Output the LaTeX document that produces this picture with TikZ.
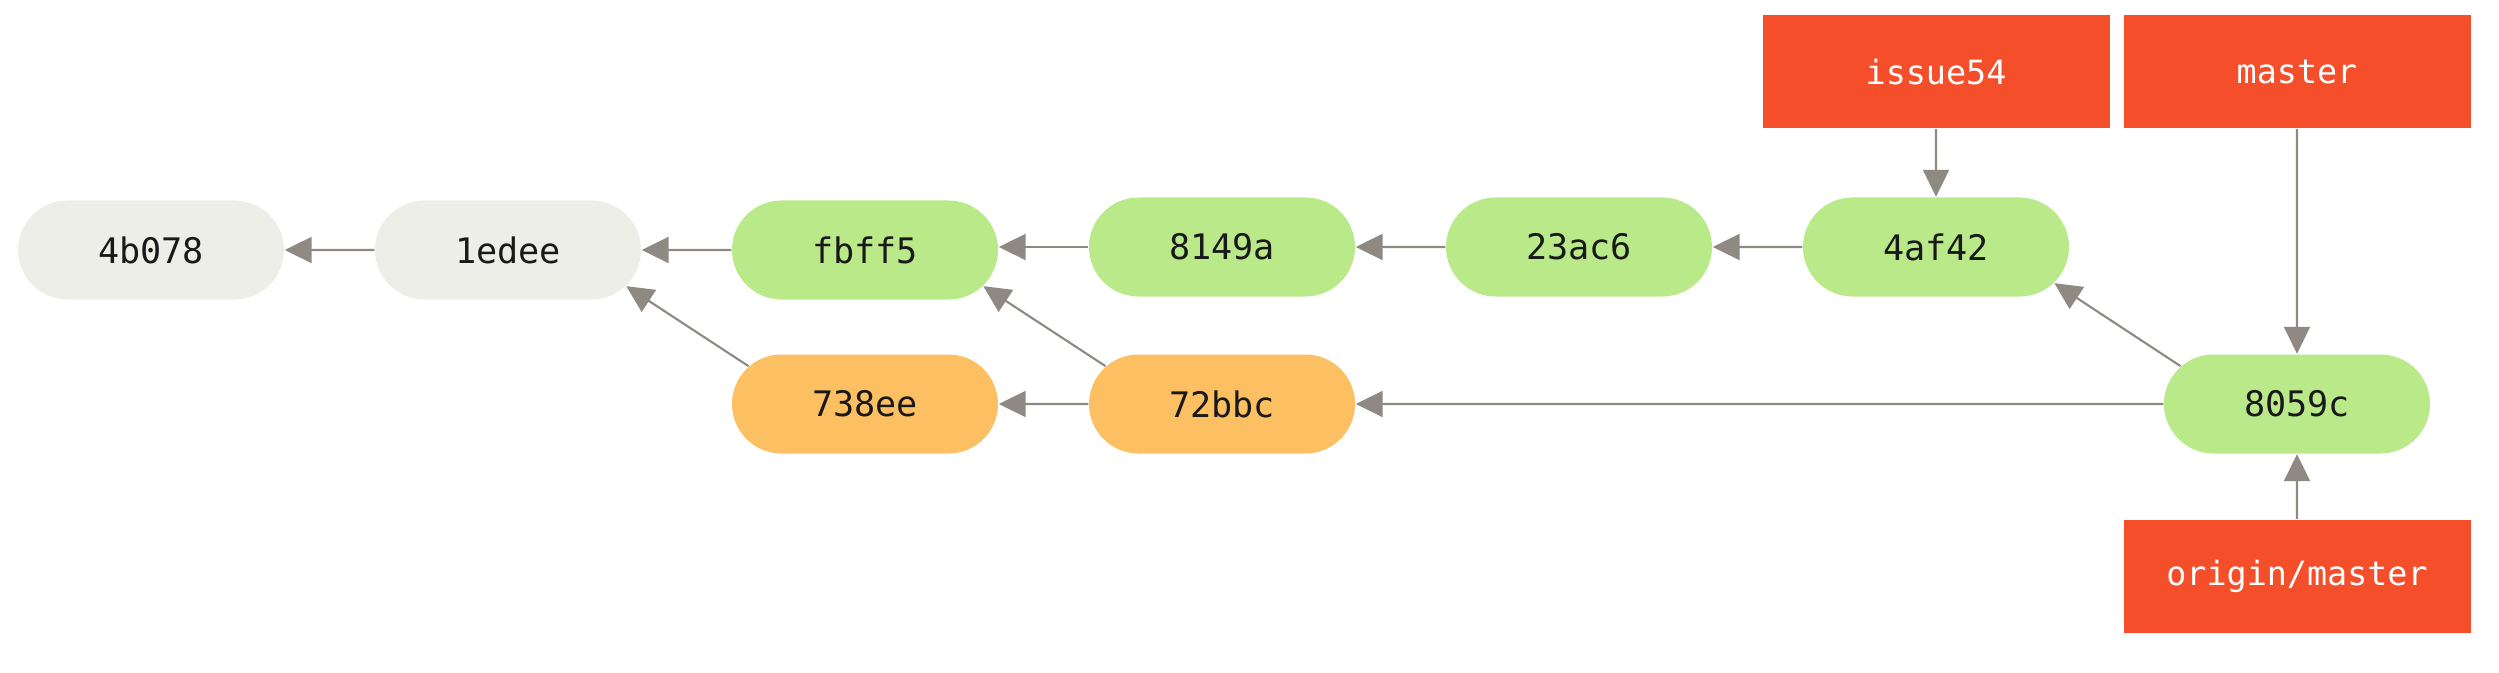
\documentclass[tikz,border=0pt]{standalone}
\usepackage{fontspec}
\setmonofont{DejaVu Sans Mono}
\usepackage{tikz}
\usetikzlibrary{positioning, arrows.meta, shapes.misc}
\definecolor{oldgray}{HTML}{EEEEE8}
\definecolor{commitgreen}{HTML}{BAE98A}
\definecolor{commitorange}{HTML}{FCC062}
\definecolor{refred}{HTML}{F44F2A}
\definecolor{linkgray}{HTML}{8E8982}
\tikzstyle{arrow} = [line width=0.6pt, draw=linkgray, -{Triangle[length=2.7mm, width=2.6mm]}]
\tikzstyle{commit} = [rounded rectangle, minimum width=2.66cm, minimum height=0.99cm, inner sep=0pt, text=black!90, font=\ttfamily\fontsize{10}{12}\selectfont]
\tikzstyle{oldcommit} = [commit, fill=oldgray]
\tikzstyle{newcommit} = [commit, fill=commitgreen]
\tikzstyle{sidecommit} = [commit, fill=commitorange]
\tikzstyle{branch} = [rectangle, minimum width=3.47cm, minimum height=1.13cm, inner sep=0pt, fill=refred, text=white, font=\ttfamily\fontsize{9.5}{11}\selectfont]

\begin{document}
\begin{tikzpicture}[node distance=3.57cm]
        \useasboundingbox (0,0) rectangle (24.99,6.72);
        \node (c4b078) [oldcommit] at (1.51,4.22) {4b078};
        \node (c1edee) [oldcommit, right of=c4b078] {1edee};
        \node (cfbff5) [newcommit, right of=c1edee] {fbff5};
        \node (c8149a) [newcommit, right of=cfbff5, yshift=0.03cm] {8149a};
        \node (c23ac6) [newcommit, right of=c8149a] {23ac6};
        \node (c4af42) [newcommit, right of=c23ac6] {4af42};
        \node (c738ee) [sidecommit, below of=cfbff5, node distance=1.54cm] {738ee};
        \node (c72bbc) [sidecommit, right of=c738ee] {72bbc};
        \node (c8059c) [newcommit, right of=c72bbc, node distance=10.75cm] {8059c};
        \node (issue) [branch, above of=c4af42, node distance=1.75cm] {issue54};
        \node (master) [branch, above of=c8059c, node distance=3.32cm] {master};
        \node (origin) [branch, below of=c8059c, node distance=1.72cm] {origin/master};

        \draw [arrow] (c1edee) -- (c4b078);
        \draw [arrow] (cfbff5) -- (c1edee);
        \draw [arrow] (c8149a.west) -- (cfbff5.east |- c8149a.west);
        \draw [arrow] (c23ac6) -- (c8149a);
        \draw [arrow] (c4af42) -- (c23ac6);
        \draw [arrow] (c738ee.162) -- (c1edee.-17);
        \draw [arrow] (c72bbc) -- (c738ee);
        \draw [arrow] (c72bbc.162) -- (cfbff5.-17);
        \draw [arrow] (c8059c) -- (c72bbc);
        \draw [arrow] (c8059c.162) -- (c4af42.-17);
        \draw [arrow] (issue) -- (c4af42);
        \draw [arrow] (master) -- (c8059c);
        \draw [arrow] (origin) -- (c8059c);

        \end{tikzpicture}
\end{document}
